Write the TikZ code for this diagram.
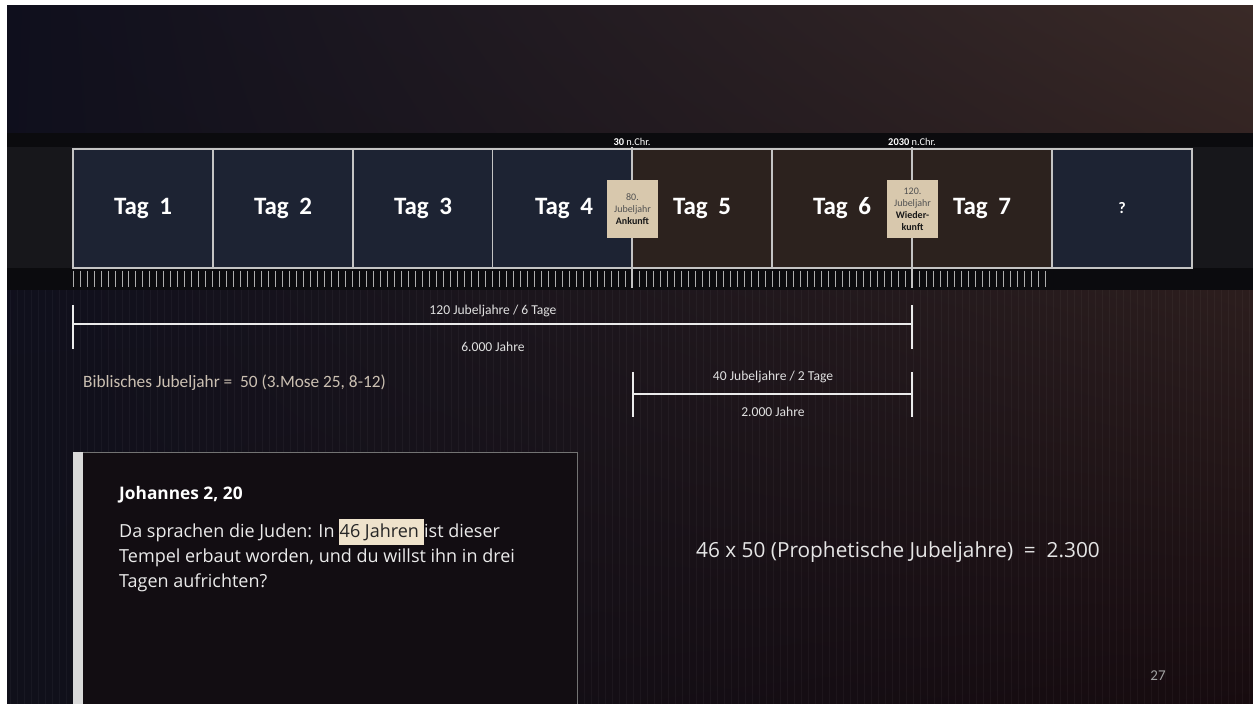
\documentclass[tikz,border=0pt]{standalone}
\usepackage{fontspec}
\usetikzlibrary{shadings}
\setmainfont{Carlito}
\newfontfamily\bodyfont{Open Sans}
\definecolor{bgUL}{HTML}{0F0F1D}
\definecolor{bgUR}{HTML}{3A2A27}
\definecolor{bgLL}{HTML}{10101A}
\definecolor{bgLR}{HTML}{170B0F}
\definecolor{navyc}{HTML}{1D2333}
\definecolor{brownc}{HTML}{2C221E}
\definecolor{bandc}{HTML}{17171B}
\definecolor{stripc}{HTML}{0B0B0E}
\definecolor{framec}{HTML}{C4C4C4}
\definecolor{beigec}{HTML}{D8C8AD}
\definecolor{bibc}{HTML}{CBC0B2}
\definecolor{hlc}{HTML}{EFE3CC}
\definecolor{textboxc}{HTML}{120D12}
\tikzset{
  daybox/.style={draw=framec, line width=1.4pt, minimum width=140pt, minimum height=119pt, inner sep=0pt},
  taglbl/.style={text=white, inner sep=0pt, font=\fontsize{25}{28}\selectfont\bfseries},
  jbox/.style={fill=beigec, minimum width=51pt, minimum height=58pt, inner sep=1pt, align=center, text=black!68, font=\fontsize{10}{12}\selectfont},
  datelbl/.style={text=white, font=\fontsize{10.4}{11}\selectfont, inner sep=0pt},
  meas/.style={draw=white!92!black, line width=2.2pt},
  measlbl/.style={text=white!88!black, font=\fontsize{13.6}{15}\selectfont, inner sep=0pt},
  tickln/.style={draw=white!68!black, line width=0.9pt}
}
\newcommand{\tagsp}{\hspace{0.42em}}
\begin{document}
\begin{tikzpicture}[x=1pt, y=-1pt]
\useasboundingbox (0,0) rectangle (1253,704);
\fill[white] (0,0) rectangle (1253,704);
\shade[upper left=bgUL, upper right=bgUR, lower left=bgLL, lower right=bgLR] (7,5) rectangle (1253,704);
% faint vertical stripes
\foreach \i in {0,...,177} \draw[white, opacity=0.035, line width=1pt] ({10+\i*7},290) -- ({10+\i*7},704);
% band
\fill[bandc] (7,147) rectangle (1253,268);
\fill[stripc] (7,133) rectangle (1253,147);
\fill[stripc] (7,268) rectangle (1253,290);
% days
\node[daybox, fill=navyc] (d1) at (143,208.5) {};
\node[daybox, fill=navyc] (d2) at (283,208.5) {};
\node[daybox, fill=navyc] (d3) at (423,208.5) {};
\node[daybox, fill=navyc] (d4) at (562.5,208.5) {};
\node[daybox, fill=brownc] (d5) at (702,208.5) {};
\node[daybox, fill=brownc] (d6) at (842,208.5) {};
\node[daybox, fill=brownc] (d7) at (982,208.5) {};
\node[daybox, fill=navyc, text=white, font=\fontsize{16}{18}\selectfont\bfseries] (d8) at (1122,208.5) {?};
\node[taglbl] (t1) at (143,208.5) {Tag\tagsp 1};
\node[taglbl] (t2) at (283,208.5) {Tag\tagsp 2};
\node[taglbl] (t3) at (423,208.5) {Tag\tagsp 3};
\node[taglbl] (t4) at (564,208.5) {Tag\tagsp 4};
\node[taglbl] (t5) at (702,208.5) {Tag\tagsp 5};
\node[taglbl] (t6) at (842,208.5) {Tag\tagsp 6};
\node[taglbl] (t7) at (982,208.5) {Tag\tagsp 7};
% ticks
\foreach \i in {0,...,139} \draw[tickln] ({73+\i*6.993},270.5) -- ({73+\i*6.993},287);
% date lines
\coordinate (c30t) at (632,147);
\coordinate (c30b) at (632,288);
\coordinate (c2030t) at (912,147);
\coordinate (c2030b) at (912,288);
\draw[draw=framec, line width=1.4pt] (c30t) -- (c30b);
\draw[draw=framec, line width=1.4pt] (c2030t) -- (c2030b);
\node[datelbl] (l30) at (632,141.5) {\textbf{30} n.Chr.};
\node[datelbl] (l2030) at (912,141.5) {\textbf{2030} n.Chr.};
\node[jbox] (j80) at (632.5,209) {80.\\Jubeljahr\\\textcolor{black!90}{\textbf{Ankunft}}};
\node[jbox] (j120) at (912.5,209) {120.\\Jubeljahr\\\textcolor{black!90}{\textbf{Wieder-}}\\\textcolor{black!90}{\textbf{kunft}}};
% measurement 1
\coordinate (m1a) at (73,324);
\coordinate (m1b) at (912,324);
\draw[meas] (m1a) -- (m1b);
\draw[meas] ([yshift=19pt]m1a) -- ([yshift=-25pt]m1a);
\draw[meas] ([yshift=19pt]m1b) -- ([yshift=-25pt]m1b);
\node[measlbl] (m1t) at (493,310.5) {120 Jubeljahre / 6 Tage};
\node[measlbl] (m1u) at (493,346.5) {6.000 Jahre};
% measurement 2
\coordinate (m2a) at (633,394);
\coordinate (m2b) at (912,394);
\draw[meas] (m2a) -- (m2b);
\draw[meas] ([yshift=22pt]m2a) -- ([yshift=-23pt]m2a);
\draw[meas] ([yshift=22pt]m2b) -- ([yshift=-23pt]m2b);
\node[measlbl] (m2t) at (773,377) {40 Jubeljahre / 2 Tage};
\node[measlbl] (m2u) at (773,412) {2.000 Jahre};
% biblical note
\node[anchor=west, text=bibc, font=\fontsize{17.3}{19}\selectfont, inner sep=0pt] (bib) at (83,383) {Biblisches Jubeljahr =\ \ 50 (3.Mose 25, 8-12)};
% text box
\fill[textboxc] (73,452) rectangle (577,704);
\draw[draw=white!45!black, line width=1pt] (577,712) -- (577,452) -- (73,452);
\fill[white!85!black] (73,452) rectangle (83,704);
\node[anchor=north west, text=white, font=\bodyfont\bfseries\fontsize{17.3}{20}\selectfont, inner sep=0pt] (joh) at (119,486) {Johannes 2, 20};
\node[anchor=north west, align=left, text=white!92!black, font=\bodyfont\fontsize{18}{25}\selectfont, inner sep=0pt] (verse) at (119,519) {Da sprachen die Juden: In {\setlength\fboxsep{0.5pt}\colorbox{hlc}{\strut\textcolor{black!85}{46 Jahren\ }}}ist dieser\\Tempel erbaut worden, und du willst ihn in drei\\Tagen aufrichten?};
% formula
\node[anchor=west, text=white!90!black, font=\bodyfont\fontsize{20.8}{24}\selectfont, inner sep=0pt] (form) at (696,552) {46 x 50 (Prophetische Jubeljahre)\ \ =\ \ 2.300};
\node[text=white!63!black, font=\fontsize{15}{16}\selectfont, inner sep=0pt] (pg) at (1158,676) {27};
\end{tikzpicture}
\end{document}
